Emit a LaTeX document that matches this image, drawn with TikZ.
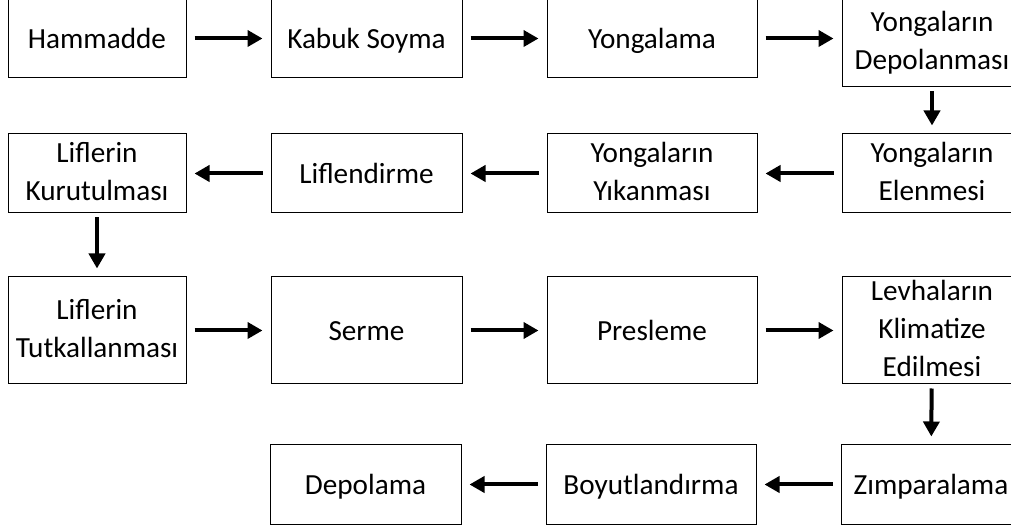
\documentclass[tikz,border=0pt]{standalone}
\usepackage{fontspec}
\setmainfont{Carlito}
\usetikzlibrary{positioning,arrows.meta}

\begin{document}
\begin{tikzpicture}[x=0.5pt, y=-0.5pt,
    box/.style={rectangle, draw, line width=0.5pt, align=center, inner sep=0pt, minimum height=39.5pt,
        execute at begin node={\rule{0pt}{12.5pt}}, execute at end node={\rule[-2.5pt]{0pt}{0pt}},
        font=\fontsize{14.6pt}{19pt}\selectfont},
    arrow/.style={-{Triangle[length=7.5pt,width=8pt]}, line width=2pt, shorten <=4pt, shorten >=4pt},
    varrow/.style={arrow, shorten <=2pt, shorten >=4pt}
]
\useasboundingbox (0,0) rectangle (1011,528);
\clip (0,0) rectangle (1011,528);

% first row
\node[box, minimum width=89pt] (hammadde) at (97,38.5) {Hammadde};
\node[box, minimum width=95.5pt, right=42pt of hammadde] (kabuk) {Kabuk Soyma};
\node[box, minimum width=105pt, right=42pt of kabuk] (yongalama) {Yongalama};
\node[box, minimum width=90pt, minimum height=44pt, right=42pt of yongalama, yshift=-2.25pt] (depo) {Yongaların\\Depolanması};

% second row
\node[box, minimum width=89pt] (kurutma) at (97,173.5) {Liflerin\\Kurutulması};
\node[box, minimum width=95.5pt, right=42pt of kurutma] (liflendirme) {Liflendirme};
\node[box, minimum width=105pt, right=42pt of liflendirme] (yikama) {Yongaların\\Yıkanması};
\node[box, minimum width=90pt, right=42pt of yikama] (elenme) {Yongaların\\Elenmesi};

% third row
\node[box, minimum width=89pt, minimum height=53.5pt] (tutkal) at (97,330.5) {Liflerin\\Tutkallanması};
\node[box, minimum width=95.5pt, minimum height=53.5pt, right=42pt of tutkal] (serme) {Serme};
\node[box, minimum width=105pt, minimum height=53.5pt, right=42pt of serme] (presleme) {Presleme};
\node[box, minimum width=90pt, minimum height=53.5pt, right=42pt of presleme] (klima) {Levhaların\\Klimatize\\Edilmesi};

% fourth row
\node[box, minimum width=95.5pt] (depolama) at (365.5,484.5) {Depolama};
\node[box, minimum width=105pt, right=42pt of depolama] (boyut) {Boyutlandırma};
\node[box, minimum width=90pt, right=42pt of boyut] (zimpara) {Zımparalama};

\draw[arrow] (hammadde) -- (kabuk);
\draw[arrow] (kabuk) -- (yongalama);
\draw[arrow] (yongalama.east) -- (yongalama.east -| depo.west);
\draw[varrow] (depo) -- (elenme);
\draw[arrow] (elenme) -- (yikama);
\draw[arrow] (yikama) -- (liflendirme);
\draw[arrow] (liflendirme) -- (kurutma);
\draw[varrow] (kurutma) -- (tutkal);
\draw[arrow] (tutkal) -- (serme);
\draw[arrow] (serme) -- (presleme);
\draw[arrow] (presleme) -- (klima);
\draw[varrow] (klima) -- (zimpara);
\draw[arrow] (zimpara) -- (boyut);
\draw[arrow] (boyut) -- (depolama);

\end{tikzpicture}
\end{document}
